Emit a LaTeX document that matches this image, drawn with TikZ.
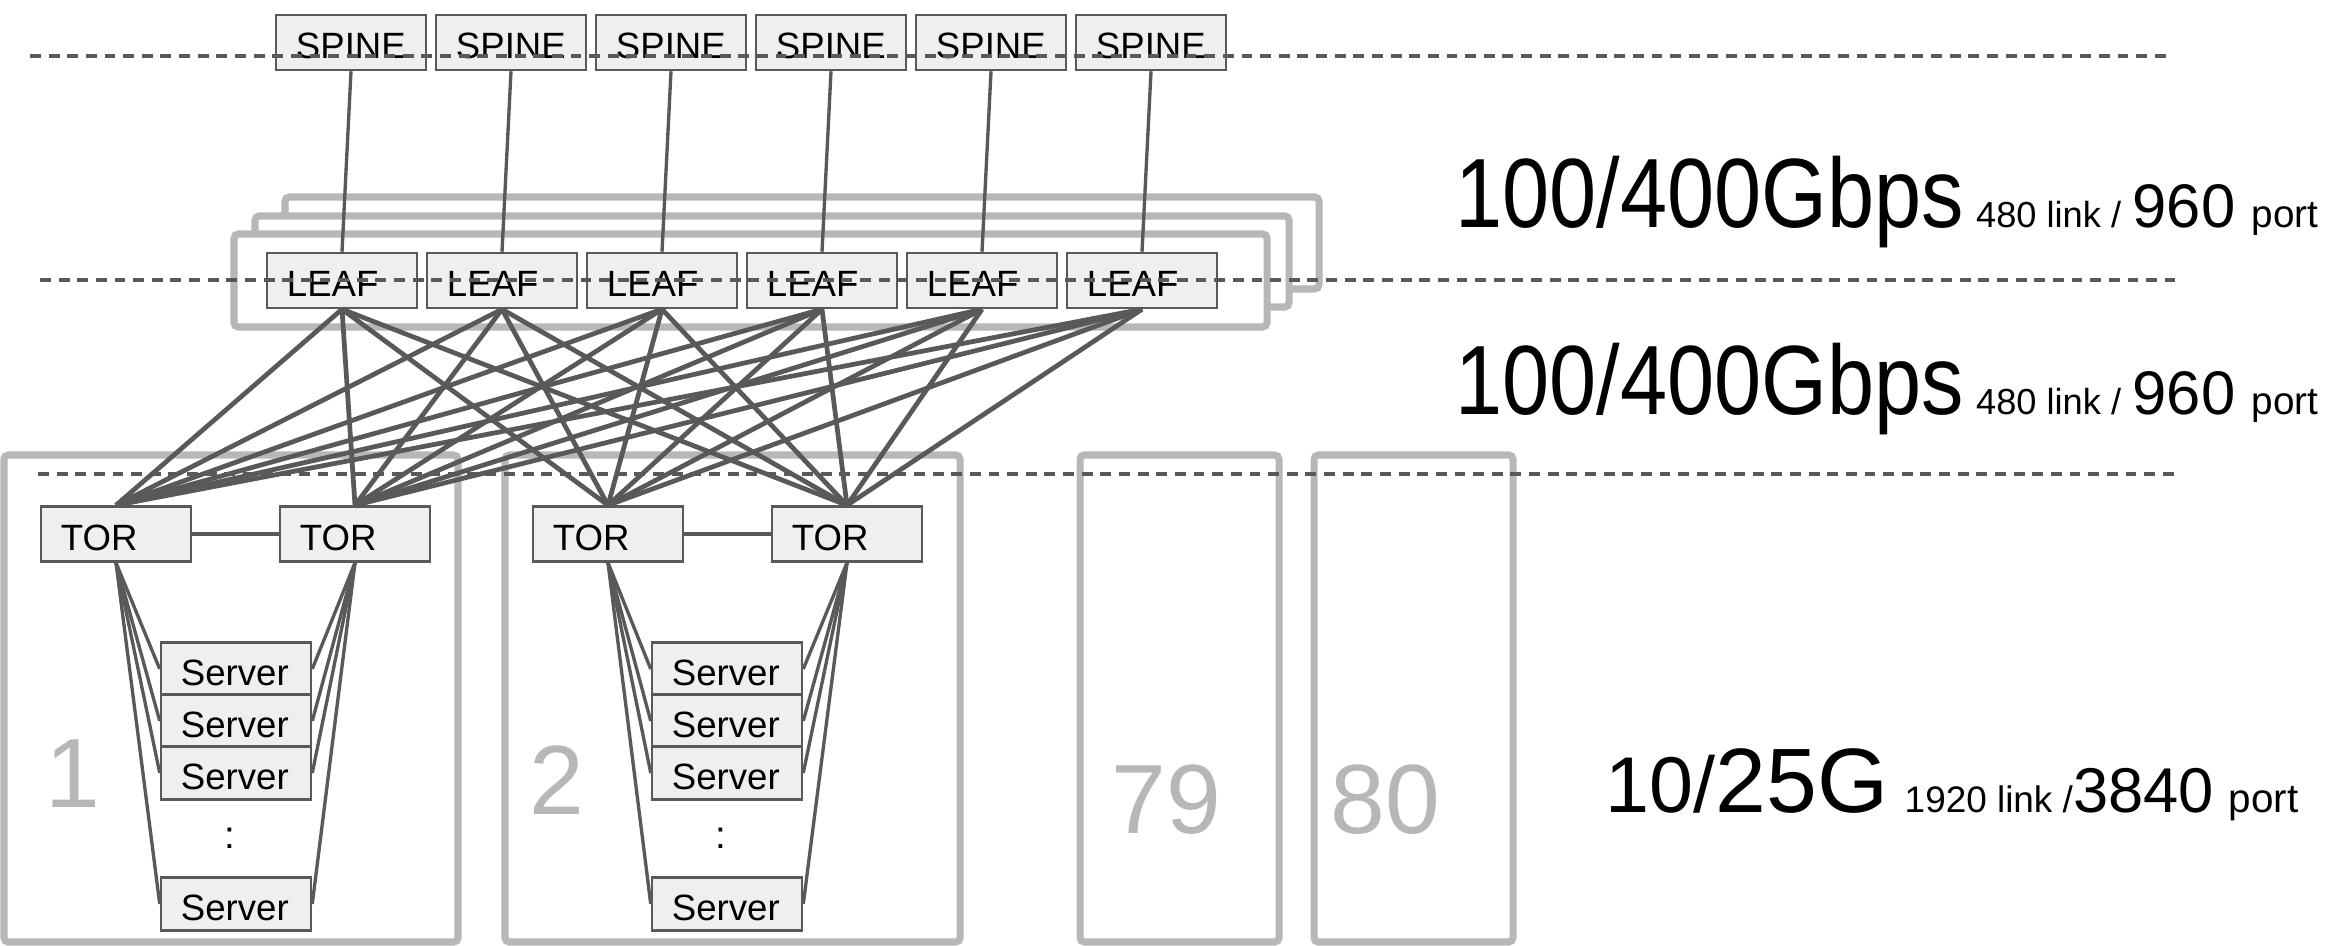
\documentclass[tikz,border=0pt]{standalone}
\usepackage{fontspec}
\setmainfont{Liberation Sans}
\usepackage{graphicx}
\definecolor{linegrey}{HTML}{595959}
\definecolor{boxgrey}{HTML}{EFEFEF}
\definecolor{rackgrey}{HTML}{B7B7B7}
\newcommand{\fs}[1]{\fontsize{#1}{#1}\selectfont}

\begin{document}
\begin{tikzpicture}[x=0.01cm, y=-0.01cm,
  dev/.style={draw=linegrey, fill=boxgrey, line width=0.7pt, minimum width=1.5cm, minimum height=0.55cm,
    text width=1.1cm, text height=0.32cm, text depth=0pt, inner xsep=0.2cm, inner ysep=0pt,
    align=left, font=\fs{10.4}},
  srv/.style={dev, minimum height=0.53cm},
  link/.style={draw=linegrey, line width=1.35pt},
  uplink/.style={draw=linegrey, line width=0.95pt},
  rack/.style={draw=rackgrey, line width=2pt, rounded corners=1.2pt},
  level/.style={draw=linegrey, line width=0.9pt, dash pattern=on 3.1pt off 2.2pt},
  racknum/.style={text=rackgrey, font=\fs{28}, inner sep=0pt, anchor=base},
  rate/.style={inner sep=0pt, anchor=base west}]
\useasboundingbox (0,0) rectangle (2331,946);

\draw[rack, fill=white] (285,197) rectangle (1319,289);
\draw[rack, fill=white] (255,216) rectangle (1289,307);
\draw[rack, fill=white] (234,234) rectangle (1267,327);

\draw[rack] (4,455) rectangle (458,942);
\draw[rack] (505,455) rectangle (960,942);
\draw[rack] (1080,455) rectangle (1279,942);
\draw[rack] (1314,455) rectangle (1513,942);
\node[racknum] (num1) at (73,807) {1};
\node[racknum] (num2) at (557,814) {2};
\node[racknum] (num79) at (1166,833) {79};
\node[racknum] (num80) at (1385,833) {80};

\foreach \i in {1,...,6} {
  \node[dev] (spine\i) at ({351+160*(\i-1)},42.5) {SPINE};
  \node[dev] (leaf\i) at ({342+160*(\i-1)},280.5) {LEAF};
  \draw[uplink] (spine\i.south) -- (leaf\i.north);
}

\node[dev] (tor1) at (116,534) {TOR};
\node[dev] (tor2) at (355,534) {TOR};
\node[dev] (tor3) at (608,534) {TOR};
\node[dev] (tor4) at (847,534) {TOR};
\draw[uplink] (tor1) -- (tor2);
\draw[uplink] (tor3) -- (tor4);

\foreach \i in {1,...,6}
  \foreach \t in {1,...,4}
    \draw[link] (leaf\i.south) -- (tor\t.north);

\foreach \p/\l/\r/\x in {1/tor1/tor2/236, 2/tor3/tor4/727} {
  \foreach \k/\y in {1/669, 2/721, 3/773, 4/904} {
    \node[srv] (srv\p-\k) at (\x,\y) {Server};
    \draw[uplink] (\l.south) -- (srv\p-\k.west);
    \draw[uplink] (\r.south) -- (srv\p-\k.east);
  }
  \node[inner sep=0pt, font=\fs{11}] (dots\p) at (\x-6,838) {:};
}

\node[rate] (rate1) at (1455,228) {\fs{28}\scalebox{0.86}[1]{100/400Gbps}\hspace{3.4pt}\fs{10.3}480 link /\hspace{3.3pt}\fs{17.5}960\hspace{4.6pt}\fs{11}port};
\node[rate] (rate2) at (1455,415) {\fs{28}\scalebox{0.86}[1]{100/400Gbps}\hspace{3.4pt}\fs{10.3}480 link /\hspace{3.3pt}\fs{17.5}960\hspace{4.6pt}\fs{11}port};
\node[rate] (rate3) at (1605,812) {\fs{22.5}10/\fs{26}25G\hspace{4.6pt}\fs{10.5}1920 link /\fs{18}3840\hspace{4.3pt}\fs{11.5}port};

\coordinate (top0) at (30,56);
\coordinate (top1) at (2167,56);
\coordinate (mid0) at (40,280);
\coordinate (mid1) at (2175,280);
\coordinate (low0) at (38,474);
\coordinate (low1) at (2178,474);
\draw[level] (top0) -- (top1);
\draw[level] (mid0) -- (mid1);
\draw[level] (low0) -- (low1);
\end{tikzpicture}
\end{document}
